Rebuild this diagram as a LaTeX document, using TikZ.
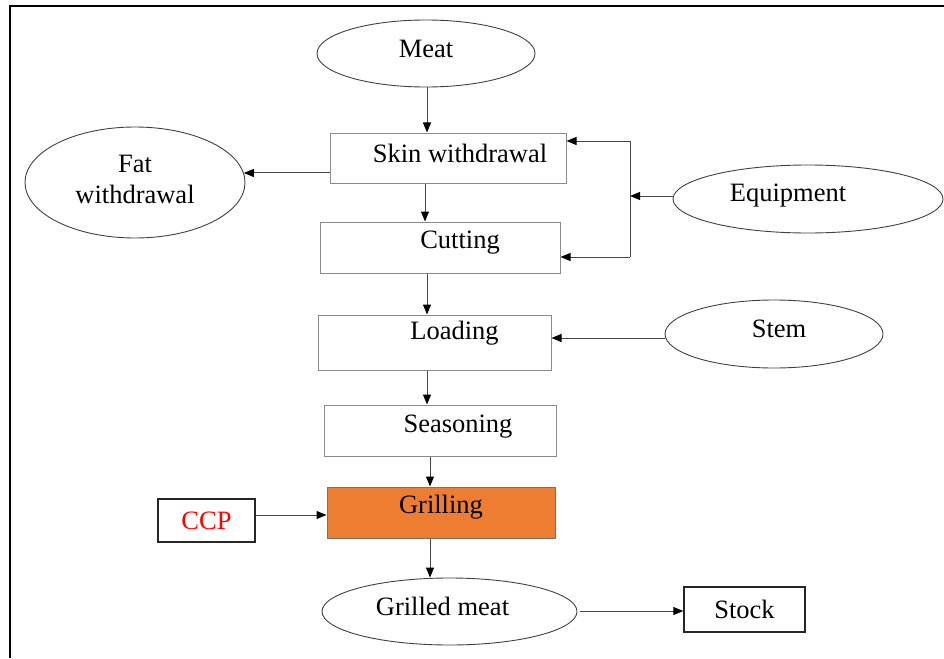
\documentclass[tikz,border=0pt]{standalone}
\usepackage{fontspec}
\setmainfont{Liberation Serif}
\usetikzlibrary{shapes.geometric,arrows.meta}
\definecolor{grillorange}{HTML}{ED7D31}
\definecolor{boxgray}{HTML}{8A8A8A}
\definecolor{linegray}{HTML}{454545}
\tikzset{
  txt/.style={font=\fontsize{26.5}{31}\selectfont},
  stepbox/.style={draw=boxgray,line width=1pt,rectangle,inner sep=0pt},
  blackbox/.style={draw=black!85,line width=1.4pt,rectangle,inner sep=0pt,txt},
  oval/.style={draw=black!75,line width=0.9pt,ellipse,inner sep=0pt},
  arr/.style={draw=linegray,line width=1pt,-{Triangle[length=10pt,width=8pt,color=black]}},
  plain/.style={draw=linegray,line width=1pt}
}
\begin{document}
\begin{tikzpicture}[x=1pt,y=-1pt]
\useasboundingbox (0,0) rectangle (944,658);
% frame
\draw[line width=2pt,black] (10,658) -- (10,6) -- (944,6);
% nodes
\node[oval,minimum width=218pt,minimum height=67pt,
  label={[txt,yshift=5pt]center:Meat}] (meat) at (426,53.5) {};
\node[stepbox,minimum width=236pt,minimum height=50pt,
  label={[txt,xshift=12pt,yshift=5pt]center:Skin withdrawal}] (skin) at (448,158) {};
\node[oval,minimum width=220pt,minimum height=111pt,
  label={[txt,align=center,yshift=3pt]center:Fat\\withdrawal}] (fat) at (135,182.5) {};
\node[stepbox,minimum width=240pt,minimum height=51pt,
  label={[txt,xshift=20pt,yshift=5pt]center:Cutting}] (cut) at (440,247.5) {};
\node[oval,minimum width=270pt,minimum height=68pt,
  label={[txt,xshift=-20pt,yshift=3pt]center:Equipment}] (eq) at (808,199) {};
\node[stepbox,minimum width=233pt,minimum height=55pt,
  label={[txt,xshift=20pt,yshift=9pt]center:Loading}] (load) at (434.5,342.5) {};
\node[oval,minimum width=218pt,minimum height=68pt,
  label={[txt,xshift=5pt,yshift=5pt]center:Stem}] (stem) at (774,334) {};
\node[stepbox,minimum width=232pt,minimum height=51pt,
  label={[txt,xshift=18pt,yshift=4pt]center:Seasoning}] (seas) at (440,430.5) {};
\node[stepbox,draw=black!55,fill=grillorange,minimum width=228pt,minimum height=51pt,
  label={[txt,yshift=5pt]center:Grilling}] (grill) at (441,512.5) {};
\node[blackbox,minimum width=97pt,minimum height=43pt,text=red] (ccp) at (206.5,520.5) {CCP};
\node[oval,minimum width=255pt,minimum height=67pt,
  label={[txt,xshift=-7pt,yshift=5pt]center:Grilled meat}] (gm) at (449.5,611.5) {};
\node[blackbox,minimum width=121pt,minimum height=45pt] (stock) at (744.5,609.5) {Stock};
% junction for equipment
\coordinate (j) at (630,196);
\coordinate (jt) at (630,141);
\coordinate (jb) at (630,257);
% connectors
\draw[arr] (meat.south -| 427,0) -- (skin.north -| 427,0);
\draw[arr] (skin.west |- fat.5) -- (fat.5);
\draw[arr] (skin.south -| 425,0) -- (cut.north -| 425,0);
\draw[arr] (eq.west |- j) -- (j);
\draw[plain] (jt) -- (jb);
\draw[arr] (jt) -- (skin.east |- jt);
\draw[arr] (jb) -- (cut.east |- jb);
\draw[arr] (cut.south -| 427,0) -- (load.north -| 427,0);
\draw[arr] (stem.west |- 0,338) -- (load.east |- 0,338);
\draw[arr] (load.south -| 427,0) -- (seas.north -| 427,0);
\draw[arr] (seas.south -| 430,0) -- (grill.north -| 430,0);
\draw[arr] (ccp.east |- 0,515) -- (grill.west |- 0,515);
\draw[arr] (grill.south -| 430,0) -- (gm.north -| 430,0);
\draw[arr] ([xshift=3pt]gm.east |- 0,611) -- (stock.west |- 0,611);
\end{tikzpicture}
\end{document}
